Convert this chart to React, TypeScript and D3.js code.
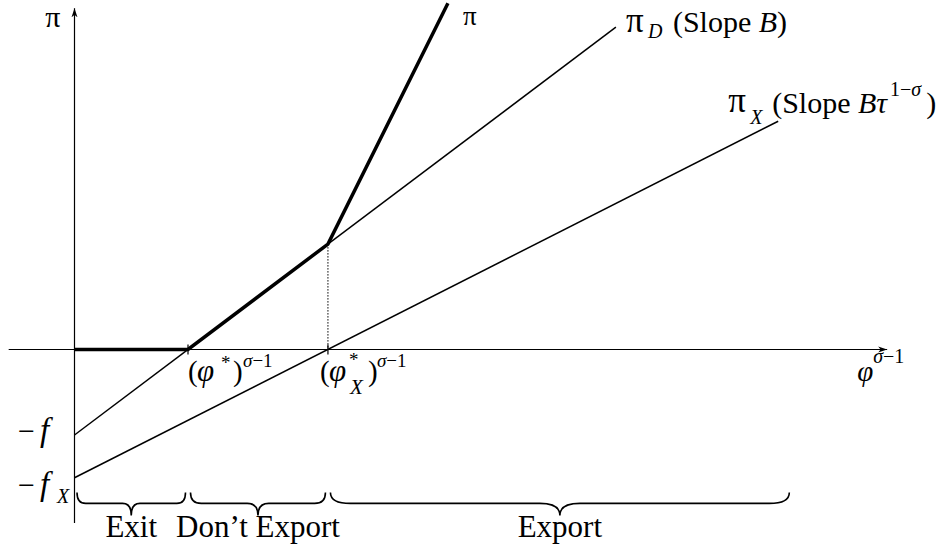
import React, { useRef, useEffect } from "react";
import * as d3 from "d3";

// x is phi^(sigma-1), y is profit (units: f = 1, phi* = 1)
const cutoffs = [1, 2.233]; // (phi*)^(sigma-1), (phi_X*)^(sigma-1)
const cutoffSubs = ["", "X"];
const fixedCosts = [1, 1.5]; // f, f_X
const fixedCostSubs = ["", "X"];
const piDLine = [[0, -1], [4.77, 3.77]];
const piXLine = [[0, -1.5], [6.2, 2.67]];
const piTotal = [[0, 0], [1, 0], [2.233, 1.233], [3.29, 4.05]];
const regionNames = ["Exit", "Don\u2019t Export", "Export"];
const regionEdges = [0, 1, 2.233, 6.32];
const xAxisExtent = [-0.58, 7.16];
const yAxisExtent = [-2.03, 3.99];
const braceLevel = -1.8;

const font = "'Liberation Serif', 'Times New Roman', serif";

const App = () => {
    const svgRef = useRef(null);

    useEffect(() => {
        const width = 950;
        const height = 550;

        const x = d3.scaleLinear().domain([0, 7]).range([74.5, 869]);
        const y = d3.scaleLinear().domain([-2, 4]).range([520.5, 7.5]);

        if (!svgRef.current) return;
        svgRef.current.innerHTML = "";

        const svg = d3
            .select(svgRef.current)
            .append("svg")
            .attr("width", width)
            .attr("height", height)
            .style("position", "absolute")
            .style("left", 0)
            .style("top", 0)
            .style("background", "#fff")
            .style("font-family", font);

        // small helper for one piece of math text
        const put = (px: number, py: number, str: string, size: number, italic = false, anchor = "start") =>
            svg.append("text")
                .attr("x", px).attr("y", py)
                .attr("font-size", size)
                .attr("font-style", italic ? "italic" : "normal")
                .attr("text-anchor", anchor)
                .text(str);

        svg.append("defs")
            .append("marker")
            .attr("id", "arrow")
            .attr("markerUnits", "userSpaceOnUse")
            .attr("markerWidth", 10)
            .attr("markerHeight", 8)
            .attr("refX", 9)
            .attr("refY", 4)
            .attr("orient", "auto")
            .append("path")
            .attr("d", "M0,1 L9,4 L0,7 L2.5,4 Z")
            .attr("fill", "#000");

        const line = d3.line().x((d: any) => x(d[0])).y((d: any) => y(d[1]));

        // axes
        svg.append("line")
            .attr("x1", x(xAxisExtent[0])).attr("x2", x(xAxisExtent[1]))
            .attr("y1", y(0)).attr("y2", y(0))
            .attr("stroke", "#000").attr("stroke-width", 1.2)
            .attr("marker-end", "url(#arrow)");
        svg.append("line")
            .attr("x1", x(0)).attr("x2", x(0))
            .attr("y1", y(yAxisExtent[0])).attr("y2", y(yAxisExtent[1]))
            .attr("stroke", "#000").attr("stroke-width", 1.2)
            .attr("marker-end", "url(#arrow)");

        // cutoff ticks
        cutoffs.forEach((c) => {
            svg.append("line")
                .attr("x1", x(c)).attr("x2", x(c))
                .attr("y1", y(0) - 5).attr("y2", y(0) + 5)
                .attr("stroke", "#000").attr("stroke-width", 1.2);
        });

        // dotted drop line at the export cutoff
        const kink = piTotal[2];
        svg.append("line")
            .attr("x1", x(kink[0])).attr("x2", x(kink[0]))
            .attr("y1", y(kink[1])).attr("y2", y(0))
            .attr("stroke", "#000").attr("stroke-width", 1)
            .attr("stroke-dasharray", "1.5,1.5");

        // profit lines
        [piDLine, piXLine].forEach((pts) => {
            svg.append("path")
                .attr("d", line(pts as any))
                .attr("fill", "none")
                .attr("stroke", "#000")
                .attr("stroke-width", 1.5);
        });
        svg.append("path")
            .attr("d", line(piTotal as any))
            .attr("fill", "none")
            .attr("stroke", "#000")
            .attr("stroke-width", 3.5)
            .attr("stroke-linejoin", "miter");

        // braces
        const brace = (x1: number, x2: number, yTop: number, yMid: number, yTip: number) => {
            const mid = (x1 + x2) / 2;
            const q = Math.min(20, (x2 - x1) * 0.08);
            return `M${x1},${yTop} Q${x1},${yMid} ${x1 + q},${yMid} L${mid - q},${yMid} ` +
                `Q${mid},${yMid} ${mid},${yTip} Q${mid},${yMid} ${mid + q},${yMid} ` +
                `L${x2 - q},${yMid} Q${x2},${yMid} ${x2},${yTop}`;
        };
        const by = y(braceLevel);
        regionNames.forEach((name, i) => {
            const x1 = x(regionEdges[i]) + 2.5;
            const x2 = x(regionEdges[i + 1]) - 2.5;
            svg.append("path")
                .attr("d", brace(x1, x2, by - 11, by, by + 12))
                .attr("fill", "none")
                .attr("stroke", "#000")
                .attr("stroke-width", 1.6);
            put((x1 + x2) / 2, by + 34, name, 31, false, "middle");
        });

        // y axis label
        put(x(0) - 14, y(yAxisExtent[1]) + 19, "\u03c0", 30, false, "end");

        // pi label at top of the thick line
        const top = piTotal[piTotal.length - 1];
        put(x(top[0]) + 15, y(top[1]) + 22, "\u03c0", 27);

        // pi_D label
        const endD = piDLine[1];
        const dx0 = x(endD[0]) + 10, dy0 = y(endD[1]) + 5;
        put(dx0, dy0, "\u03c0", 35);
        put(dx0 + 22, dy0 + 6, "D", 20, true);
        const tD = put(dx0 + 47, dy0, "(Slope ", 30);
        tD.append("tspan").attr("font-style", "italic").text("B");
        tD.append("tspan").text(")");

        // pi_X label
        const endX = piXLine[1];
        const xx0 = x(endX[0]) - 50, xy0 = y(endX[1]) - 9;
        put(xx0, xy0, "\u03c0", 35);
        put(xx0 + 22, xy0 + 12, "X", 20, true);
        const tX = put(xx0 + 44, xy0 + 1, "(Slope ", 30);
        tX.append("tspan").attr("font-style", "italic").text("B\u03c4");
        tX.append("tspan").attr("dx", 3).attr("dy", -17).attr("font-size", 20).text("1\u2212");
        tX.append("tspan").attr("font-size", 20).attr("font-style", "italic").text("\u03c3");
        tX.append("tspan").attr("dx", 5).attr("dy", 17).text(")");

        // cutoff labels
        const base = y(0) + 31;
        cutoffs.forEach((c, i) => {
            const sub = cutoffSubs[i];
            const lx = x(c) - (sub ? 8 : 0);
            put(lx, base, "(", 29);
            put(lx + 9, base, "\u03c6", 31, true);
            put(lx + (sub ? 29 : 33), base - (sub ? 15 : 12), "*", 19);
            if (sub) put(lx + 30, base + 13, sub, 21, true);
            put(lx + (sub ? 48 : 45), base, ")", 29);
            const s = put(lx + (sub ? 57 : 55), base - 14, "\u03c3", 19, true);
            s.append("tspan").attr("font-style", "normal").text("\u22121");
        });

        // x axis label
        const ax = x(xAxisExtent[1]) - 30;
        put(ax, base, "\u03c6", 29, true);
        const sx = put(ax + 16, base - 18, "\u03c3", 20, true);
        sx.append("tspan").attr("font-style", "normal").text("\u22121");

        // fixed cost labels
        const costOffsets = [6, 17];
        fixedCosts.forEach((f, i) => {
            const py = y(-f) + costOffsets[i];
            put(18, py, "\u2212", 30);
            put(40, py, "f", 33, true);
            if (fixedCostSubs[i]) put(57, py + 8, fixedCostSubs[i], 20, true);
        });
    }, []);

    return (
        <div ref={svgRef}></div>
    );
};

export default App;
